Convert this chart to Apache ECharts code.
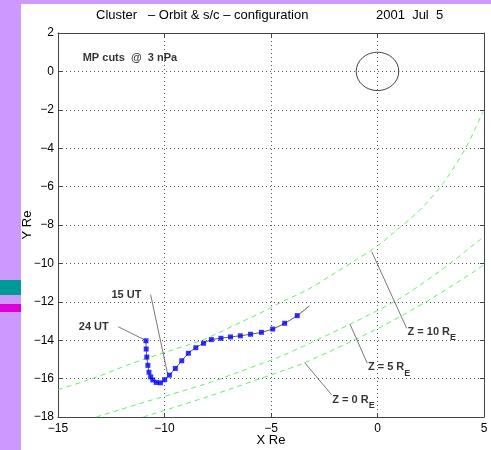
<!DOCTYPE html>
<html>
<head>
<meta charset="utf-8">
<script src="https://cdn.jsdelivr.net/npm/echarts@6/dist/echarts.min.js"></script>
<style>html,body{margin:0;padding:0;background:#fff;}#c{width:491px;height:450px;}</style>
</head>
<body>
<div id="c"></div>
<script>
// ---- data ----
var xTicks = [-15, -10, -5, 0, 5];
var yTicks = [2, 0, -2, -4, -6, -8, -10, -12, -14, -16, -18];
// orbit (marked points)
var orbitX = [-10.87,-10.86,-10.83,-10.78,-10.73,-10.65,-10.55,-10.39,-10.19,-9.99,-9.77,-9.49,-9.19,-8.88,-8.53,-8.17,-7.80,-7.35,-6.90,-6.44,-5.96,-5.45,-4.92,-4.36,-3.77];
var orbitY = [-14.03,-14.46,-14.88,-15.31,-15.67,-15.91,-16.07,-16.20,-16.22,-16.06,-15.82,-15.47,-15.07,-14.68,-14.39,-14.16,-13.97,-13.90,-13.83,-13.77,-13.69,-13.59,-13.42,-13.12,-12.72];
var orbitTail = [-3.20, -12.22];
// magnetopause cuts
var mpZ10X = [-15, -14.78, -13.21, -11.51, -9.63, -8.13, -6.38, -5.52, -4.58, -3.32, -2.0, -0.05, 0.81, 1.98, 3.08, 4.09, 4.56, 4.95];
var mpZ10Y = [-16.58, -16.5, -15.93, -15.2, -14.51, -13.95, -13.04, -12.6, -12.05, -11.39, -10.5, -9.13, -8.35, -7.23, -5.83, -4.09, -3.05, -2.1];
var mpZ5X = [-13.2, -11.0, -8.0, -5.52, -4.58, -1.29, 1.0, 3.0, 4.8, 5.0];
var mpZ5Y = [-18, -17.25, -16.25, -15.25, -14.86, -13.17, -11.85, -10.34, -8.78, -8.6];
var mpZ0X = [-11.0, -8.0, -4.58, -3.42, 0.0, 2.5, 4.65, 5.0];
var mpZ0Y = [-18, -16.95, -15.64, -15.17, -13.4, -11.85, -10.34, -10.05];
// earth
var earth = [[0, 0, 1]];
// annotations
var titleLeft = 'Cluster   \u2013 Orbit & s/c \u2013 configuration';
var titleRight = '2001  Jul  5';
var noteText = 'MP cuts  @  3 nPa';
var utLabels = [['15 UT', -11.79, -11.65], ['24 UT', -13.32, -13.31]];
var utLeaders = [[[-10.65, -11.63], [-9.85, -15.78]], [[-12.17, -13.30], [-10.92, -13.99]]];
var zLabels = [['10', 1.41, -13.55], ['5', -0.45, -15.40], ['0', -2.12, -17.09]];
var zLeaders = [[[-0.27, -9.39], [1.37, -13.38]], [[-1.29, -13.17], [-0.48, -15.2]], [[-3.42, -15.17], [-2.15, -16.85]]];
var notePos = [-13.84, 0.7];

function zip(a, b) { return a.map(function (v, i) { return [v, b[i]]; }); }
var minus = function (v) { return String(v).replace('-', '\u2212'); };

var chart = echarts.init(document.getElementById('c'), null, {renderer: 'canvas'});
var FONT = 'Liberation Sans, Arial, sans-serif';
var axisCol = '#444';
var green = '#66ee66';

var series = [];
// MP cuts
[[mpZ10X, mpZ10Y], [mpZ5X, mpZ5Y], [mpZ0X, mpZ0Y]].forEach(function (p) {
  series.push({type: 'line', data: zip(p[0], p[1]), smooth: 0.3, symbol: 'none', silent: true,
    lineStyle: {color: green, width: 1, type: [5, 4]}, z: 2});
});
// leaders
utLeaders.concat(zLeaders).forEach(function (l) {
  series.push({type: 'line', data: l, symbol: 'none', silent: true, lineStyle: {color: '#555', width: 0.8}, z: 3});
});
// orbit line
series.push({type: 'line', data: zip(orbitX, orbitY).concat([orbitTail]), smooth: 0.2, symbol: 'none', silent: true,
  lineStyle: {color: '#333', width: 0.8}, z: 4});
// orbit markers
series.push({type: 'scatter', data: zip(orbitX, orbitY), symbol: 'rect', symbolSize: 5, silent: true,
  itemStyle: {color: '#0000ff'}, z: 5});
// earth
series.push({type: 'custom', data: earth, silent: true, z: 4,
  renderItem: function (params, api) {
    var c = api.coord([api.value(0), api.value(1)]);
    var s = api.size([api.value(2), api.value(2)]);
    return {type: 'circle', shape: {cx: 0, cy: 0, r: s[0]}, x: c[0], y: c[1], scaleY: s[1] / s[0],
      style: {fill: 'none', stroke: '#222', lineWidth: 0.9, strokeNoScale: true}};
  }});
// UT labels
series.push({type: 'scatter', symbolSize: 0, silent: true, z: 6,
  data: utLabels.map(function (d) { return {value: [d[1], d[2]], name: d[0]}; }),
  label: {show: true, position: 'inside', formatter: '{b}', color: '#000', fontFamily: FONT, fontSize: 11, fontWeight: 'bold'}});
// Z labels
series.push({type: 'scatter', symbolSize: 0, silent: true, z: 6,
  data: zLabels.map(function (d) { return {value: [d[1], d[2]], name: d[0]}; }),
  label: {show: true, position: 'right', distance: 0, formatter: function (p) { return '{m|Z = ' + p.name + ' R}{s|E}'; },
    rich: {m: {color: '#000', fontFamily: FONT, fontSize: 11, fontWeight: 'bold', lineHeight: 21, verticalAlign: 'middle'},
           s: {color: '#000', fontFamily: FONT, fontSize: 9, fontWeight: 'bold', lineHeight: 21, verticalAlign: 'bottom'}}}});
// note
series.push({type: 'scatter', symbolSize: 0, silent: true, z: 6,
  data: [{value: notePos, name: noteText}],
  label: {show: true, position: 'right', distance: 0, formatter: '{b}', color: '#000', fontFamily: FONT, fontSize: 11, fontWeight: 'bold'}});

var gridDef = {left: 58, right: 7, top: 33, bottom: 33, outerBoundsMode: 'none', containLabel: false};
var tickStyle = {show: true, inside: true, length: 4, lineStyle: {color: axisCol, width: 1}};
var split = {show: true, lineStyle: {color: '#555', width: 1, type: [1, 3]}};

chart.setOption({
  animation: false,
  backgroundColor: '#ffffff',
  textStyle: {fontFamily: FONT},
  grid: gridDef,
  graphic: [
    {type: 'rect', left: 0, top: 0, shape: {width: 21, height: 450}, style: {fill: '#cc99ff'}, z: -10},
    {type: 'rect', left: 0, top: 0, shape: {width: 491, height: 4}, style: {fill: '#cc99ff'}, z: -10},
    {type: 'rect', left: 0, top: 280, shape: {width: 21, height: 15}, style: {fill: '#009999'}, z: -9},
    {type: 'rect', left: 0, top: 304, shape: {width: 21, height: 8}, style: {fill: '#dd00dd'}, z: -9},
    {type: 'text', left: 96, top: 9, style: {text: titleLeft, fontFamily: FONT, fontSize: 13, fill: '#000'}},
    {type: 'text', left: 376, top: 9, style: {text: titleRight, fontFamily: FONT, fontSize: 13, fill: '#000'}}
  ],
  xAxis: [
    {type: 'value', min: -15, max: 5, interval: 5, position: 'bottom',
      name: 'X Re', nameLocation: 'middle', nameGap: 17, nameMoveOverlap: false, nameTextStyle: {fontFamily: FONT, fontSize: 13, color: '#000'},
      axisLine: {show: true, onZero: false, lineStyle: {color: axisCol, width: 1}}, axisTick: tickStyle,
      axisLabel: {margin: 6, color: '#000', fontFamily: FONT, fontSize: 12, formatter: function (v) { return xTicks.indexOf(v) >= 0 ? minus(v) : ''; }},
      splitLine: split},
    {type: 'value', min: -15, max: 5, interval: 5, position: 'top',
      axisLine: {show: true, onZero: false, lineStyle: {color: axisCol, width: 1}}, axisTick: tickStyle,
      axisLabel: {show: false}, splitLine: {show: false}}
  ],
  yAxis: [
    {type: 'value', min: -18, max: 2, interval: 2, position: 'left',
      name: 'Y Re', nameLocation: 'middle', nameGap: 24, nameMoveOverlap: false, nameTextStyle: {fontFamily: FONT, fontSize: 13, color: '#000'},
      axisLine: {show: true, onZero: false, lineStyle: {color: axisCol, width: 1}}, axisTick: tickStyle,
      axisLabel: {margin: 4, color: '#000', fontFamily: FONT, fontSize: 12, formatter: function (v) { return yTicks.indexOf(v) >= 0 ? minus(v) : ''; }},
      splitLine: split},
    {type: 'value', min: -18, max: 2, interval: 2, position: 'right',
      axisLine: {show: true, onZero: false, lineStyle: {color: axisCol, width: 1}}, axisTick: tickStyle,
      axisLabel: {show: false}, splitLine: {show: false}}
  ],
  series: series
});
</script>
</body>
</html>
